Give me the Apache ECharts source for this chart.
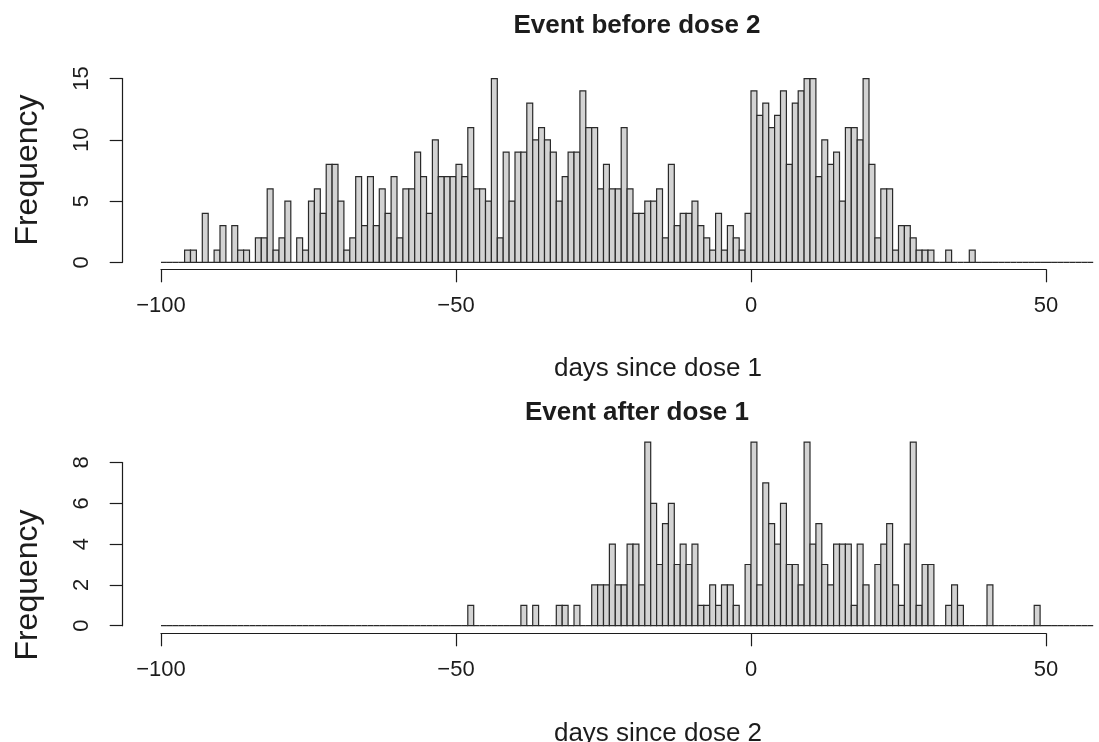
<!DOCTYPE html>
<html>
<head>
<meta charset="utf-8">
<script src="https://cdn.jsdelivr.net/npm/echarts@6/dist/echarts.min.js"></script>
<style>html,body{margin:0;padding:0;background:#fff}#c{width:1099px;height:742px}</style>
</head>
<body>
<div id="c"></div>
<script>
// Histogram bins: one day wide, from -100 to 58
const binFirst = -100;
const binLast = 58;
const xTicks = [-100, -50, 0, 50];

// Event before dose 2 — counts per bin (x = days since dose 1), bins -100 .. 57
const countsBefore = [
  0,0,0,0,
  1,1,0,4,0,1,3,0,3,1,
  1,0,2,2,6,1,2,5,0,2,
  1,5,6,4,8,8,5,1,2,7,
  3,7,3,6,4,7,2,6,6,9,
  7,4,10,7,7,7,8,7,11,6,
  6,5,15,2,9,5,9,9,13,10,
  11,10,9,5,7,9,9,14,11,11,
  6,8,6,6,11,6,4,4,5,5,
  6,2,8,3,4,4,5,3,2,1,
  4,1,3,2,1,4,
  14,12,13,11,12,14,8,13,14,15,
  15,7,10,8,9,5,11,11,10,15,
  8,2,6,6,1,3,3,2,1,1,
  1,0,0,1,0,0,0,1,
  0,0,0,0,0,0,0,0,0,0,0,0,0,0,0,0,0,0,0,0
];

// Event after dose 1 — counts per bin (x = days since dose 2), bins -100 .. 57
const countsAfter = [
  0,0,0,0,0,0,0,0,0,0,0,0,0,0,0,0,0,0,0,0,0,0,0,0,0,0,
  0,0,0,0,0,0,0,0,0,0,0,0,0,0,0,0,0,0,0,0,0,0,0,0,0,0,
  1,0,0,0,0,0,0,0,0,1,
  0,1,0,0,0,1,1,0,1,0,
  0,2,2,2,4,2,2,4,4,2,
  9,6,3,5,6,3,4,3,4,1,
  1,2,1,2,2,1,0,3,
  9,2,7,5,4,6,3,3,2,9,
  4,5,3,2,4,4,4,1,4,2,
  0,3,4,5,2,1,4,9,1,3,
  3,0,0,1,2,1,0,0,0,0,
  2,0,0,0,0,0,0,0,1,
  0,0,0,0,0,0,0,0,0
];

const titles = ['Event before dose 2', 'Event after dose 1'];
const xTitles = ['days since dose 1', 'days since dose 2'];
const yTitle = 'Frequency';
const yRanges = [{max: 15, barMax: 15, step: 5}, {max: 8, barMax: 9, step: 2}];

function toBins(counts) {
  const out = [];
  for (let i = 0; i < counts.length; i++) {
    const s = binFirst + i;
    out.push([s, s + 1, counts[i]]);
  }
  return out;
}

const FONT = '"Liberation Sans", Arial, Helvetica, sans-serif';
const INK = '#1c1c1c';
const minus = v => String(v).replace('-', '\u2212');

// layout per panel (pixel positions of the plotting regions)
const L = [
  {zeroY: 262.3, unit: 12.25, axisY: 269.3, titleTop: 8, xTitleTop: 351, yTitleY: 170},
  {zeroY: 625.7, unit: 20.4, axisY: 633.3, titleTop: 395, xTitleTop: 716, yTitleY: 585}
];
const pxPerDay = 5.9;
const left0 = 161;
const yAxisX = 122.7;

const grid = [], xAxis = [], yAxis = [], series = [], title = [], graphic = [];
const data = [countsBefore, countsAfter];

L.forEach((p, k) => {
  const r = yRanges[k];
  const barsH = r.barMax * p.unit;
  const axisH = r.max * p.unit;
  const rightPx = 1099 - (left0 + (binLast - binFirst) * pxPerDay);
  // bars grid
  grid.push({left: left0, right: rightPx, top: p.zeroY - barsH, height: barsH});
  // x axis grid (axis spans the tick range only)
  grid.push({left: left0, width: (xTicks[xTicks.length-1] - xTicks[0]) * pxPerDay, top: p.axisY - 1, height: 1});
  // y axis grid
  grid.push({left: yAxisX, width: 1, top: p.zeroY - axisH, height: axisH});
  const g = k * 3;
  xAxis.push({
    gridIndex: g, type: 'value', min: binFirst, max: binLast, show: false
  });
  xAxis.push({
    gridIndex: g + 1, type: 'value', min: xTicks[0], max: xTicks[xTicks.length-1], interval: 50,
    position: 'bottom',
    axisLine: {show: true, lineStyle: {color: INK, width: 1.2}},
    axisTick: {show: true, inside: false, length: 13, lineStyle: {color: INK, width: 1.2}},
    axisLabel: {show: true, margin: 26, fontFamily: FONT, fontSize: 22, color: INK, formatter: minus},
    splitLine: {show: false}
  });
  xAxis.push({gridIndex: g + 2, type: 'value', show: false});
  yAxis.push({gridIndex: g, type: 'value', min: 0, max: r.barMax, show: false});
  yAxis.push({gridIndex: g + 1, type: 'value', show: false});
  yAxis.push({
    gridIndex: g + 2, type: 'value', min: 0, max: r.max, interval: r.step, position: 'left',
    axisLine: {show: true, lineStyle: {color: INK, width: 1.2}},
    axisTick: {show: true, inside: false, length: 13, lineStyle: {color: INK, width: 1.2}},
    axisLabel: {show: true, rotate: 90, margin: 30, fontFamily: FONT, fontSize: 22, color: INK},
    splitLine: {show: false}
  });
  series.push({
    type: 'custom', xAxisIndex: g, yAxisIndex: g, clip: false,
    data: toBins(data[k]),
    encode: {x: [0, 1], y: 2},
    renderItem: function (params, api) {
      const a = api.coord([api.value(0), 0]);
      const b = api.coord([api.value(1), api.value(2)]);
      return {
        type: 'rect',
        shape: {x: a[0], y: b[1], width: b[0] - a[0], height: a[1] - b[1]},
        style: {fill: '#d3d3d3', stroke: '#2a2a2a', lineWidth: 1.2}
      };
    },
    silent: true, animation: false
  });
  title.push({
    text: titles[k], left: 632, textAlign: 'center', top: p.titleTop,
    textStyle: {fontFamily: FONT, fontSize: 26, fontWeight: 'bold', color: INK}
  });
  title.push({
    text: xTitles[k], left: 653, textAlign: 'center', top: p.xTitleTop,
    textStyle: {fontFamily: FONT, fontSize: 26, fontWeight: 'normal', color: INK}
  });
  graphic.push({
    type: 'text', x: 28, y: p.yTitleY, rotation: Math.PI / 2, silent: true,
    style: {text: yTitle, align: 'center', verticalAlign: 'middle',
            font: '32px ' + FONT, fill: INK}
  });
});

const chart = echarts.init(document.getElementById('c'), null, {renderer: 'canvas'});
chart.setOption({
  backgroundColor: '#ffffff',
  animation: false,
  title: title,
  graphic: graphic,
  grid: grid,
  xAxis: xAxis,
  yAxis: yAxis,
  series: series
});
</script>
</body>
</html>
